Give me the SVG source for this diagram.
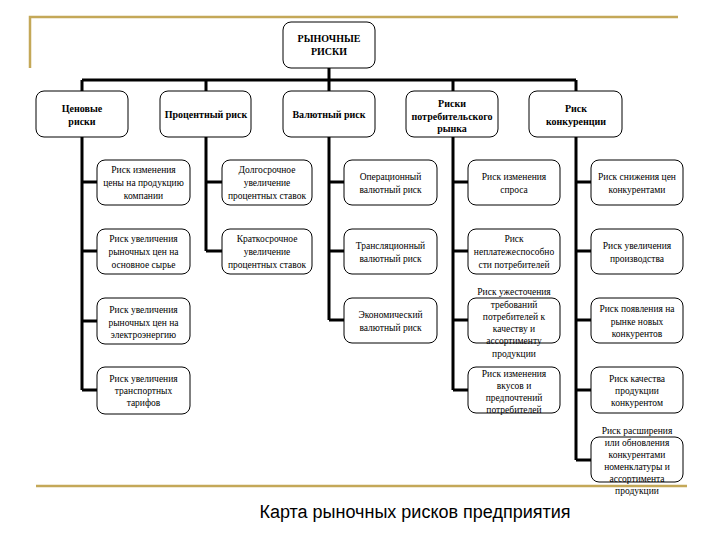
<svg xmlns="http://www.w3.org/2000/svg" width="720" height="540" viewBox="0 0 720 540">
<style>
.box{fill:#fff;stroke:#000;stroke-width:1}
.con{fill:none;stroke:#000;stroke-width:3}
.gold{fill:none;stroke:#C4A858;stroke-width:2.5}
.h{font-family:'Liberation Serif','DejaVu Serif','Times New Roman',serif;font-size:10px;font-weight:bold;text-anchor:middle;fill:#000}
.t{font-family:'Liberation Serif','DejaVu Serif','Times New Roman',serif;font-size:9.5px;text-anchor:middle;fill:#000}
.title{font-family:'Liberation Sans',Arial,sans-serif;font-size:18px;text-anchor:middle;fill:#000}
</style>
<rect width="720" height="540" fill="#fff"/>
<path class="gold" d="M30,68 V17 H678"/>
<path class="gold" d="M36,486 H687"/>
<g id="connectors">
<path class="con" d="M329,68 V80 M82,80 H576 M82,80 V91 M206,80 V91 M329,80 V91 M453,80 V91 M576,80 V91"/>
<path class="con" d="M82,137 V390 M82,182 H97 M82,251 H97 M82,321 H97 M82,390 H97"/>
<path class="con" d="M206,137 V251 M206,182 H222 M206,251 H222"/>
<path class="con" d="M329,137 V320 M329,182 H344 M329,251 H344 M329,320 H344"/>
<path class="con" d="M453,137 V390 M453,182 H468 M453,251 H468 M453,320 H468 M453,390 H468"/>
<path class="con" d="M576,137 V460 M576,182 H591 M576,251 H591 M576,320 H591 M576,390 H591 M576,460 H591"/>
</g>
<g id="root"><rect class="box" x="283" y="22" width="92" height="46" rx="8"/><text class="h" x="329" y="42">РЫНОЧНЫЕ</text><text class="h" x="329" y="55">РИСКИ</text></g>
<g id="price"><rect class="box" x="36" y="91" width="92" height="46" rx="8"/><text class="h" x="82" y="112">Ценовые</text><text class="h" x="82" y="125">риски</text></g>
<g id="interest"><rect class="box" x="160" y="91" width="91" height="46" rx="8"/><text class="h" x="206" y="118">Процентный риск</text></g>
<g id="currency"><rect class="box" x="283" y="91" width="92" height="46" rx="8"/><text class="h" x="329" y="118">Валютный риск</text></g>
<g id="consumer"><rect class="box" x="406" y="91" width="92" height="46" rx="8"/><text class="h" x="452" y="107">Риски</text><text class="h" x="452" y="120">потребительского</text><text class="h" x="452" y="132">рынка</text></g>
<g id="competition"><rect class="box" x="529" y="91" width="93" height="46" rx="8"/><text class="h" x="576" y="112">Риск</text><text class="h" x="576" y="125">конкуренции</text></g>

<g id="c1r1"><rect class="box" x="97" y="160" width="93" height="45" rx="8"/><text class="t" x="143.5" y="173">Риск изменения</text><text class="t" x="143.5" y="186">цены на продукцию</text><text class="t" x="143.5" y="199">компании</text></g>
<g id="c1r2"><rect class="box" x="97" y="229" width="93" height="45" rx="8"/><text class="t" x="143.5" y="242">Риск увеличения</text><text class="t" x="143.5" y="255">рыночных цен на</text><text class="t" x="143.5" y="268">основное сырье</text></g>
<g id="c1r3"><rect class="box" x="97" y="298" width="93" height="46" rx="8"/><text class="t" x="143.5" y="313">Риск увеличения</text><text class="t" x="143.5" y="326">рыночных цен на</text><text class="t" x="143.5" y="338">электроэнергию</text></g>
<g id="c1r4"><rect class="box" x="97" y="367" width="93" height="47" rx="8"/><text class="t" x="143.5" y="382">Риск увеличения</text><text class="t" x="143.5" y="394">транспортных</text><text class="t" x="143.5" y="406">тарифов</text></g>

<g id="c2r1"><rect class="box" x="222" y="160" width="90" height="45" rx="8"/><text class="t" x="267" y="173">Долгосрочное</text><text class="t" x="267" y="186">увеличение</text><text class="t" x="267" y="199">процентных ставок</text></g>
<g id="c2r2"><rect class="box" x="222" y="229" width="90" height="45" rx="8"/><text class="t" x="267" y="242">Краткосрочное</text><text class="t" x="267" y="255">увеличение</text><text class="t" x="267" y="268">процентных ставок</text></g>

<g id="c3r1"><rect class="box" x="344" y="160" width="93" height="45" rx="8"/><text class="t" x="390.5" y="180">Операционный</text><text class="t" x="390.5" y="193">валютный риск</text></g>
<g id="c3r2"><rect class="box" x="344" y="229" width="93" height="45" rx="8"/><text class="t" x="390.5" y="249">Трансляционный</text><text class="t" x="390.5" y="262">валютный риск</text></g>
<g id="c3r3"><rect class="box" x="344" y="298" width="93" height="45" rx="8"/><text class="t" x="390.5" y="318">Экономический</text><text class="t" x="390.5" y="331">валютный риск</text></g>

<g id="c4r1"><rect class="box" x="468" y="160" width="92" height="45" rx="8"/><text class="t" x="514" y="180">Риск изменения</text><text class="t" x="514" y="193">спроса</text></g>
<g id="c4r2"><rect class="box" x="468" y="229" width="92" height="45" rx="8"/><text class="t" x="514" y="242">Риск</text><text class="t" x="514" y="255">неплатежеспособно</text><text class="t" x="514" y="268">сти потребителей</text></g>
<g id="c4r3"><rect class="box" x="468" y="298" width="92" height="45" rx="8"/><text class="t" x="514" y="295">Риск ужесточения</text><text class="t" x="514" y="308">требований</text><text class="t" x="514" y="320">потребителей к</text><text class="t" x="514" y="332">качеству и</text><text class="t" x="514" y="344">ассортименту</text><text class="t" x="514" y="357">продукции</text></g>
<g id="c4r4"><rect class="box" x="468" y="367" width="92" height="46" rx="8"/><text class="t" x="514" y="377">Риск изменения</text><text class="t" x="514" y="389">вкусов и</text><text class="t" x="514" y="401">предпочтений</text><text class="t" x="514" y="413">потребителей</text></g>

<g id="c5r1"><rect class="box" x="591" y="160" width="92" height="45" rx="8"/><text class="t" x="637" y="180">Риск снижения цен</text><text class="t" x="637" y="193">конкурентами</text></g>
<g id="c5r2"><rect class="box" x="591" y="229" width="92" height="45" rx="8"/><text class="t" x="637" y="249">Риск увеличения</text><text class="t" x="637" y="262">производства</text></g>
<g id="c5r3"><rect class="box" x="591" y="298" width="92" height="45" rx="8"/><text class="t" x="637" y="312">Риск появления на</text><text class="t" x="637" y="325">рынке новых</text><text class="t" x="637" y="337">конкурентов</text></g>
<g id="c5r4"><rect class="box" x="591" y="367" width="92" height="46" rx="8"/><text class="t" x="637" y="382">Риск качества</text><text class="t" x="637" y="394">продукции</text><text class="t" x="637" y="406">конкурентом</text></g>
<g id="c5r5"><rect class="box" x="591" y="437" width="92" height="45" rx="8"/><text class="t" x="637" y="434">Риск расширения</text><text class="t" x="637" y="446">или обновления</text><text class="t" x="637" y="458">конкурентами</text><text class="t" x="637" y="470">номенклатуры и</text><text class="t" x="637" y="482">ассортимента</text><text class="t" x="637" y="494">продукции</text></g>

<text class="title" x="415" y="518">Карта рыночных рисков предприятия</text>
</svg>
